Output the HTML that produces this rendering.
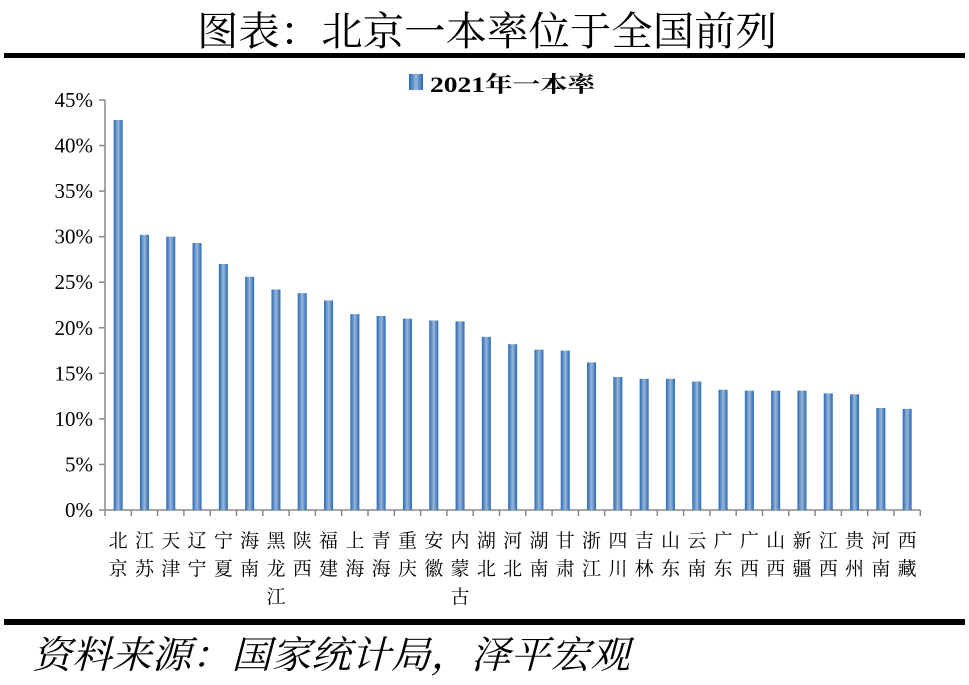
<!DOCTYPE html>
<html><head><meta charset="utf-8"><style>body{margin:0;background:#fff}svg{display:block}</style></head>
<body>
<svg width="969" height="685" xmlns="http://www.w3.org/2000/svg">
<defs><linearGradient id="g" x1="0" x2="1" y1="0" y2="0"><stop offset="0" stop-color="#2468b8"/><stop offset="0.5" stop-color="#9ab6d6"/><stop offset="1" stop-color="#2468b8"/></linearGradient></defs>
<text x="197" y="45" font-family="Liberation Serif, Noto Serif CJK SC, serif" font-size="40" textLength="580" lengthAdjust="spacingAndGlyphs">图表：北京一本率位于全国前列</text>
<rect x="4" y="53" width="961" height="5" fill="#000"/>
<rect x="409" y="74" width="14" height="16" fill="url(#g)"/>
<text x="430" y="92" font-family="Liberation Serif, Noto Serif CJK SC, serif" font-size="22" font-weight="bold" textLength="165" lengthAdjust="spacingAndGlyphs">2021年一本率</text>
<g id="axes" stroke="#888" stroke-width="1.5" fill="none"></g>
<g id="ylab" font-family="Liberation Serif, serif" font-size="21" text-anchor="end"></g>
<g id="bars"></g>
<g id="xlab" font-family="Liberation Serif, Noto Serif CJK SC, serif" font-size="19" text-anchor="middle"></g>
<rect x="4" y="619" width="961" height="6" fill="#000"/>
<text x="32" y="668" font-family="Liberation Serif, Noto Serif CJK SC, serif" font-size="38" font-style="italic" textLength="598" lengthAdjust="spacingAndGlyphs">资料来源：国家统计局，泽平宏观</text>
</svg>
<script>
var ns="http://www.w3.org/2000/svg";
function el(p,t,a,txt){var e=document.createElementNS(ns,t);for(var k in a)e.setAttribute(k,a[k]);if(txt!=null)e.textContent=txt;document.getElementById(p).appendChild(e);}
var y0=510,unit=410/45,x0=105,cw=26.3;
var vals=[42.8,30.2,30.0,29.3,27.0,25.6,24.2,23.8,23.0,21.5,21.3,21.0,20.8,20.7,19.0,18.2,17.6,17.5,16.2,14.6,14.4,14.4,14.1,13.2,13.1,13.1,13.1,12.8,12.7,11.2,11.1];
var names=["北京","江苏","天津","辽宁","宁夏","海南","黑龙江","陕西","福建","上海","青海","重庆","安徽","内蒙古","湖北","河北","湖南","甘肃","浙江","四川","吉林","山东","云南","广东","广西","山西","新疆","江西","贵州","河南","西藏"];
el("axes","line",{x1:x0,y1:100,x2:x0,y2:y0});
el("axes","line",{x1:x0,y1:y0,x2:x0+cw*31,y2:y0});
for(var i=0;i<=9;i++){var y=y0-i*5*unit;el("axes","line",{x1:x0-6,y1:y,x2:x0,y2:y});el("ylab","text",{x:x0-12,y:y+7},(i*5)+"%");}
for(var i=0;i<=31;i++){var x=x0+i*cw;el("axes","line",{x1:x,y1:y0,x2:x,y2:y0+6});}
vals.forEach(function(v,i){var cx=x0+cw*(i+0.5);var h=v*unit;el("bars","rect",{x:cx-4.5,y:y0-h,width:9,height:h,fill:"url(#g)"});
var n=names[i];for(var j=0;j<n.length;j++)el("xlab","text",{x:cx,y:547+j*28},n[j]);});
</script>
</body></html>
